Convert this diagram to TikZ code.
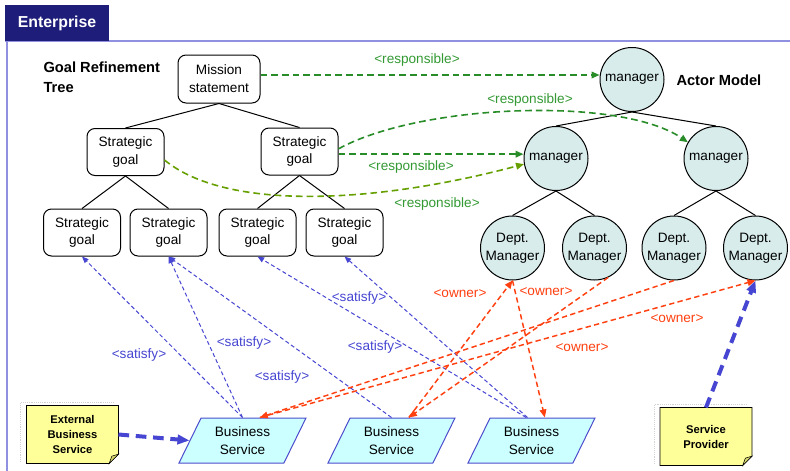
\documentclass[tikz,border=0pt]{standalone}
\usepackage{fontspec}
\setmainfont{Liberation Sans}
\usetikzlibrary{arrows.meta,shapes.geometric,backgrounds}

\definecolor{tabblue}{RGB}{30,30,122}
\definecolor{framecol}{RGB}{144,144,224}
\definecolor{actorfill}{RGB}{216,236,236}
\definecolor{svcfill}{RGB}{204,255,255}
\definecolor{svcline}{RGB}{76,76,204}
\definecolor{notefill}{RGB}{255,255,153}
\definecolor{foldfill}{RGB}{214,214,110}
\definecolor{respgreen}{RGB}{40,140,40}
\definecolor{resplime}{RGB}{102,160,0}
\definecolor{resptext}{RGB}{51,153,51}
\definecolor{satblue}{RGB}{70,70,210}
\definecolor{ownred}{RGB}{255,64,16}

\tikzset{every picture/.style={line width=0.75pt}}
\tikzset{
  basefont/.style={font=\fontsize{10.2}{13.3}\selectfont},
  tabbox/.style={fill=tabblue, text=white, font=\bfseries\fontsize{11.9}{14}\selectfont, minimum width=78pt, minimum height=27pt, inner sep=0pt},
  goalbox/.style={draw, rounded corners=6pt, fill=white, basefont, align=center, minimum width=57.75pt, minimum height=35.25pt, inner sep=1pt},
  actor/.style={circle, draw, fill=actorfill, basefont, align=center, minimum size=48pt, inner sep=0pt},
  service/.style={trapezium, trapezium left angle=54, trapezium right angle=126, trapezium stretches body, draw=svcline, fill=svcfill, basefont, align=center, minimum width=95.25pt, minimum height=33.75pt, inner sep=1pt},
  notebox/.style={font=\bfseries\fontsize{8.4}{11.25}\selectfont, align=center, minimum width=68.25pt, minimum height=42.75pt, inner sep=0pt},
  resp/.style={draw=respgreen, line width=1.2pt, dash pattern={on 5pt off 3pt}, -{Triangle[length=6pt,width=5pt]}},
  sat/.style={draw=satblue, dash pattern={on 3pt off 2pt}, -{Triangle[length=5pt,width=4pt]}},
  own/.style={draw=ownred, line width=1.1pt, dash pattern={on 4pt off 2.5pt}, -{Triangle[length=6pt,width=5pt]}},
  uses/.style={draw=satblue, line width=3pt, dash pattern={on 8pt off 5pt}, -{Triangle[length=9pt,width=7pt]}},
  resplabel/.style={text=resptext, basefont, inner sep=0.75pt},
  satlabel/.style={text=satblue, basefont, inner sep=0.75pt},
  ownlabel/.style={text=ownred, basefont, inner sep=0.75pt},
  heading/.style={font=\bfseries\fontsize{11}{15}\selectfont, inner sep=0.75pt},
}

\begin{document}
\begin{tikzpicture}[x=0.75pt,y=0.75pt,yscale=-1,xscale=1]
\useasboundingbox (0,0) rectangle (790,471);

%Frame
\draw [framecol, line width=1.5pt] (5,41) -- (790,41) ;
\draw [framecol, line width=1.5pt] (6.5,41) -- (6.5,471) ;
% Text Node
\draw (57,23) node [tabbox] (tab) {Enterprise};

% Text Node
\draw (42,60) node [anchor=north west][heading][align=left] (treetitle) {Goal Refinement\\Tree};
% Text Node
\draw (675,80) node [anchor=west][heading] (actortitle) {Actor Model};

%Rounded Rect
\draw (219,79) node [goalbox, minimum width=61.5pt, minimum height=36pt] (mission) {Mission\\statement};
\draw (125.5,152) node [goalbox] (sgl) {Strategic\\goal};
\draw (299.5,151.5) node [goalbox] (sgr) {Strategic\\goal};
\draw (82,232.5) node [goalbox] (ga) {Strategic\\goal};
\draw (168.5,232.5) node [goalbox] (gb) {Strategic\\goal};
\draw (257.5,232.5) node [goalbox] (gc) {Strategic\\goal};
\draw (344.5,232.5) node [goalbox] (gd) {Strategic\\goal};

%Shape: Circle
\draw (632,79.5) node [actor] (mgr) {manager};
\draw (556,158.5) node [actor] (mgrl) {manager};
\draw (716,158.5) node [actor] (mgrr) {manager};
\draw (512.5,248) node [actor] (dma) {Dept.\\Manager};
\draw (594.5,248) node [actor] (dmb) {Dept.\\Manager};
\draw (674,248) node [actor] (dmc) {Dept.\\Manager};
\draw (755.5,248) node [actor] (dmd) {Dept.\\Manager};

%Shape: Parallelogram
\draw (242.5,440.5) node [service] (bsa) {Business\\Service};
\draw (391.5,440.5) node [service] (bsb) {Business\\Service};
\draw (531.5,440.5) node [service] (bsc) {Business\\Service};

%Shape: Note
\draw (72.5,434.5) node [notebox] (ext) {External\\Business\\Service};
\draw (706,436.5) node [notebox] (sp) {Service\\Provider};
\begin{scope}[on background layer]
\foreach \n in {ext,sp} {
  \draw [gray!35, densely dotted] ([shift={(-6,-2)}]\n.south west) -- ([shift={(-6,-3)}]\n.north west) -- ([shift={(-4,-3)}]\n.north east) ;
  \draw [fill=notefill] (\n.north west) -- (\n.north east) -- ([yshift=-7pt]\n.south east) -- ([xshift=-7pt]\n.south east) -- (\n.south west) -- cycle ;
  \draw [fill=foldfill] ([yshift=-7pt]\n.south east) -- ([xshift=-7pt]\n.south east) -- ([shift={(-5pt,-5.5pt)}]\n.south east) -- cycle ;
}
\end{scope}

%Straight Lines
\draw (mission.south) -- (sgl.north) ;
\draw (mission.south) -- (sgr.north) ;
\draw (sgl.south) -- (ga.north) ;
\draw (sgl.south) -- (gb.north) ;
\draw (sgr.south) -- (gc.north) ;
\draw (sgr.south) -- (gd.north) ;
\draw (mgr.south) -- (mgrl.north) ;
\draw (mgr.south) -- (mgrr.north) ;
\draw (mgrl.south) -- (dma.north) ;
\draw (mgrl.south) -- (dmb.north) ;
\draw (mgrr.south) -- (dmc.north) ;
\draw (mgrr.south) -- (dmd.north) ;

%Responsible
\draw [resp] ([yshift=-3pt]mission.east) -- ([yshift=-3pt]mission.east -| mgr.west) ;
\draw [resp] ([yshift=-2pt]sgr.east) .. controls (420,104) and (620,96) .. (mgrr.150) ;
\draw [resp] ([yshift=2pt]sgr.east) -- ([yshift=2pt]sgr.east -| mgrl.west) ;
\draw [resp, draw=resplime] ([yshift=6pt]sgl.east) .. controls (225,210) and (370,205) .. (mgrl.190) ;

%Satisfy
\draw [sat] (bsa.center |- bsa.north) -- (ga.south) ;
\draw [sat] (bsa.center |- bsa.north) -- (gb.south) ;
\draw [sat] (bsb.center |- bsb.north) -- (gb.south) ;
\draw [sat] ([xshift=-4pt]bsc.center |- bsc.north) -- (gc.south) ;
\draw [sat] ([xshift=-3pt]bsc.center |- bsc.north) -- (gd.south) ;

%Owner
\draw [own] ([xshift=13pt]bsb.center |- bsb.north) -- (dma.south) ;
\draw [own] (dma.south) -- ([xshift=10pt]bsc.center |- bsc.north) ;
\draw [own] (dmb.-65) -- ([xshift=13pt]bsb.center |- bsb.north) ;
\draw [own] (dmc.south) -- ([xshift=13pt]bsa.center |- bsa.north) ;
\draw [own] ([xshift=13pt]bsa.center |- bsa.north) -- (dmd.south) ;

%Uses
\draw [uses] (ext.east) -- (bsa.west) ;
\draw [uses] (sp.north) -- (dmd.south) ;

% Text Node
\draw (417,60) node [resplabel] {<responsible>};
% Text Node
\draw (530,100) node [resplabel] {<responsible>};
% Text Node
\draw (411,167) node [resplabel] {<responsible>};
% Text Node
\draw (437,204) node [resplabel] {<responsible>};
% Text Node
\draw (139,355) node [satlabel] {<satisfy>};
% Text Node
\draw (244,343) node [satlabel] {<satisfy>};
% Text Node
\draw (282,377) node [satlabel] {<satisfy>};
% Text Node
\draw (359,298) node [satlabel] {<satisfy>};
% Text Node
\draw (375,347) node [satlabel] {<satisfy>};
% Text Node
\draw (460,294) node [ownlabel] {<owner>};
% Text Node
\draw (546,292) node [ownlabel] {<owner>};
% Text Node
\draw (677,319) node [ownlabel] {<owner>};
% Text Node
\draw (582,348) node [ownlabel] {<owner>};

\end{tikzpicture}
\end{document}
